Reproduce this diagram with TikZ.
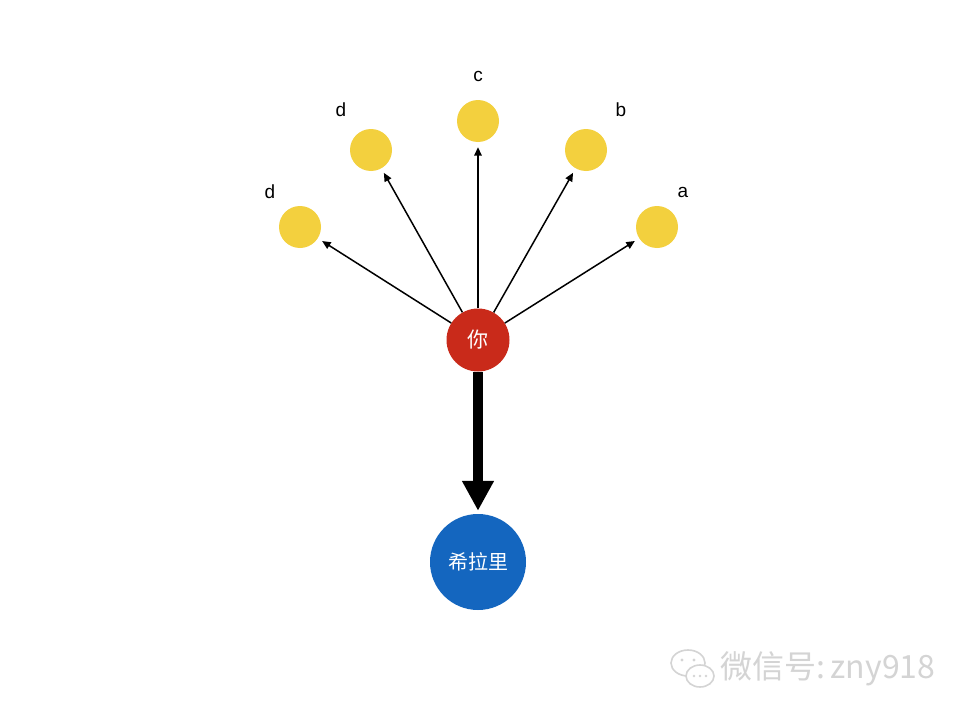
\documentclass[tikz,border=0pt]{standalone}
\usepackage{fontspec}
\setmainfont{Liberation Sans}
\newfontfamily\cjk{Noto Sans CJK SC}
\usetikzlibrary{arrows.meta}
\definecolor{ylw}{HTML}{F3D03E}
\definecolor{rd}{HTML}{C92A1A}
\definecolor{bl}{HTML}{1466BF}
\definecolor{wm}{HTML}{D4D4D4}
\begin{document}
\begin{tikzpicture}[x=1pt,y=-1pt,
  leaf/.style={circle,fill=ylw,minimum size=42pt,inner sep=0pt},
  lbl/.style={font=\fontsize{19}{19}\selectfont},
  thin/.style={line width=1.5pt,-{Triangle[width=7.5pt,length=8.5pt]},shorten >=5pt}]
\useasboundingbox (0,0) rectangle (970,720);
\fill[white] (0,0) rectangle (970,720);
\node[circle,fill=rd,minimum size=63pt,inner sep=0pt,text=white,font=\cjk\fontsize{21}{21}\selectfont] (you) at (478,340) {你};
\node[circle,fill=bl,minimum size=96pt,inner sep=0pt,text=white,font=\cjk\fontsize{20}{20}\selectfont] (hl) at (478,562) {希拉里};
\node[leaf] (y1) at (300,227) {};
\node[leaf] (y2) at (371,150) {};
\node[leaf] (y3) at (478,121) {};
\node[leaf] (y4) at (586,150) {};
\node[leaf] (y5) at (657,227) {};
\node[lbl] (l1) at (270,192) {d};
\node[lbl] (l2) at (341,110) {d};
\node[lbl] (l3) at (478,76) {c};
\node[lbl] (l4) at (621,110) {b};
\node[lbl] (l5) at (683,192) {a};
\foreach \t in {y1,y2,y3,y4,y5} \draw[thin] (you) -- (\t);
\draw[line width=10pt,-{Triangle[width=30pt,length=30pt]},shorten >=3pt] (you.south) -- (hl.north);
% watermark
\begin{scope}[draw=wm,line width=1.6pt]
\draw (688,663) ellipse (17pt and 13pt);
\draw[fill=white] (700,676) ellipse (14pt and 11pt);
\fill[wm] (682,660) circle (1.6pt) (694,660) circle (1.6pt);
\fill[wm] (694,676) circle (1.3pt) (700,676) circle (1.3pt) (706,676) circle (1.3pt);
\end{scope}
\node[text=wm,anchor=west,font=\cjk\fontsize{32}{32}\selectfont] (wmt) at (717,669) {微信号:\,zny918};
\end{tikzpicture}
\end{document}
